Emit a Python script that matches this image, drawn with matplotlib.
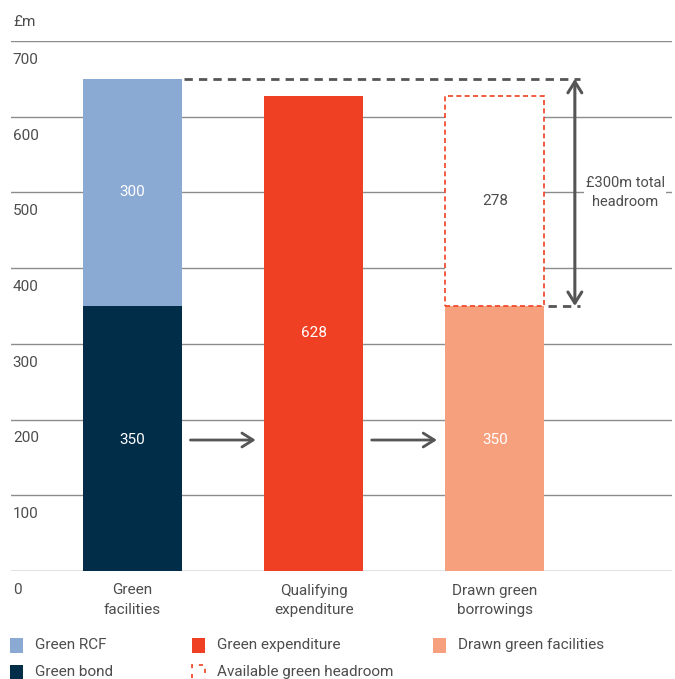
import matplotlib.pyplot as plt
from matplotlib.patches import Rectangle

plt.rcParams['font.family'] = ['Roboto', 'DejaVu Sans']

# Values in £m
categories = ["Green\nfacilities", "Qualifying\nexpenditure", "Drawn green\nborrowings"]
green_bond = 350
green_rcf = 300
green_expenditure = 628
drawn_facilities = 350
headroom_available = 278
yticks = [0, 100, 200, 300, 400, 500, 600, 700]

c_rcf = "#8aaad4"
c_bond = "#022d49"
c_exp = "#f04023"
c_drawn = "#f7a07e"
c_text = "#4d4d4d"
c_grid = "#8c8c8c"

fig = plt.figure(figsize=(6.75, 6.79), dpi=100)
ax = fig.add_axes([11 / 675, 1 - 571 / 679, 661 / 675, 530 / 679])
ax.set_xlim(-0.670, 2.977)
ax.set_ylim(0, 700)

w = 0.546
arrow_y = 173
# gridlines behind the bars, value labels just under each line
for t in yticks:
    ax.axhline(t, color=c_grid if t else "#666666", lw=1.0, zorder=0)
    ax.text(-0.66, t - 25, str(t), ha="left", va="center", fontsize=11, color=c_text,
            clip_on=False)
ax.text(-0.66, 725, "£m", ha="left", va="center", fontsize=11, color=c_text)

ax.bar(0, green_bond, width=w, color=c_bond, zorder=2)
ax.bar(0, green_rcf, width=w, bottom=green_bond, color=c_rcf, zorder=2)
ax.bar(1, green_expenditure, width=w, color=c_exp, zorder=2)
ax.bar(2, drawn_facilities, width=w, color=c_drawn, zorder=2)
ax.bar(2, headroom_available, width=w, bottom=drawn_facilities, facecolor="white",
       edgecolor=c_exp, linestyle=(0, (3, 2)), lw=1.2, zorder=2)

lab = dict(ha="center", va="center", fontsize=11, zorder=4)
ax.text(0, green_bond + green_rcf / 2, str(green_rcf), color="white", **lab)
ax.text(0, arrow_y, str(green_bond), color="white", **lab)
ax.text(1, green_expenditure / 2, str(green_expenditure), color="white", **lab)
ax.text(2, arrow_y, str(drawn_facilities), color="white", **lab)
ax.text(2, drawn_facilities + headroom_available / 2, str(headroom_available),
        color=c_text, **lab)

# total headroom bracket
total = green_bond + green_rcf
ax.plot([w / 2 + 0.01, 2.47], [total, total], color="#555555", lw=2,
        linestyle=(0, (3, 2.2)), zorder=3)
ax.plot([2 + w / 2 + 0.02, 2.47], [drawn_facilities, drawn_facilities], color="#555555",
        lw=2, linestyle=(0, (3, 2.2)), zorder=3)
ax.annotate("", xy=(2.441, total), xytext=(2.441, drawn_facilities),
            arrowprops=dict(arrowstyle="<->,head_length=0.8,head_width=0.5", color="#555555",
                            lw=2.2, shrinkA=0, shrinkB=0), zorder=3)
ax.text(2.72, 500, "£300m total\nheadroom", ha="center", va="center", fontsize=10.5,
        color=c_text, linespacing=1.5, zorder=4,
        bbox=dict(facecolor="white", edgecolor="none", pad=1))

# flow arrows between bars
for x0 in (0.32, 1.32):
    ax.annotate("", xy=(x0 + 0.36, arrow_y), xytext=(x0, arrow_y),
                arrowprops=dict(arrowstyle="->,head_length=0.8,head_width=0.5",
                                color="#555555", lw=2, shrinkA=0, shrinkB=0), zorder=3)

ax.set_xticks([0, 1, 2])
ax.set_xticklabels(categories, fontsize=11, color=c_text, linespacing=1.5)
ax.tick_params(axis="x", length=0, pad=9)
ax.set_yticks([])
for s in ax.spines.values():
    s.set_visible(False)

# legend
legend_items = [
    (10, 645, c_rcf, "Green RCF", False),
    (192, 645, c_exp, "Green expenditure", False),
    (433, 645, c_drawn, "Drawn green facilities", False),
    (10, 672, c_bond, "Green bond", False),
    (192, 672, c_exp, "Available green headroom", True),
]
for px, py, col, name, dashed in legend_items:
    box = (px / 675, 1 - (py + 8) / 679)
    if dashed:
        r = Rectangle(box, 13 / 675, 15 / 679, facecolor="white", edgecolor=col, lw=1.2,
                      linestyle=(0, (2.5, 3.5)), transform=fig.transFigure)
    else:
        r = Rectangle(box, 13 / 675, 15 / 679, facecolor=col, edgecolor="none",
                      transform=fig.transFigure)
    fig.patches.append(r)
    fig.text((px + 25) / 675, 1 - py / 679, name, ha="left", va="center",
             fontsize=11, color=c_text)

fig.savefig("out.png", dpi=100)
